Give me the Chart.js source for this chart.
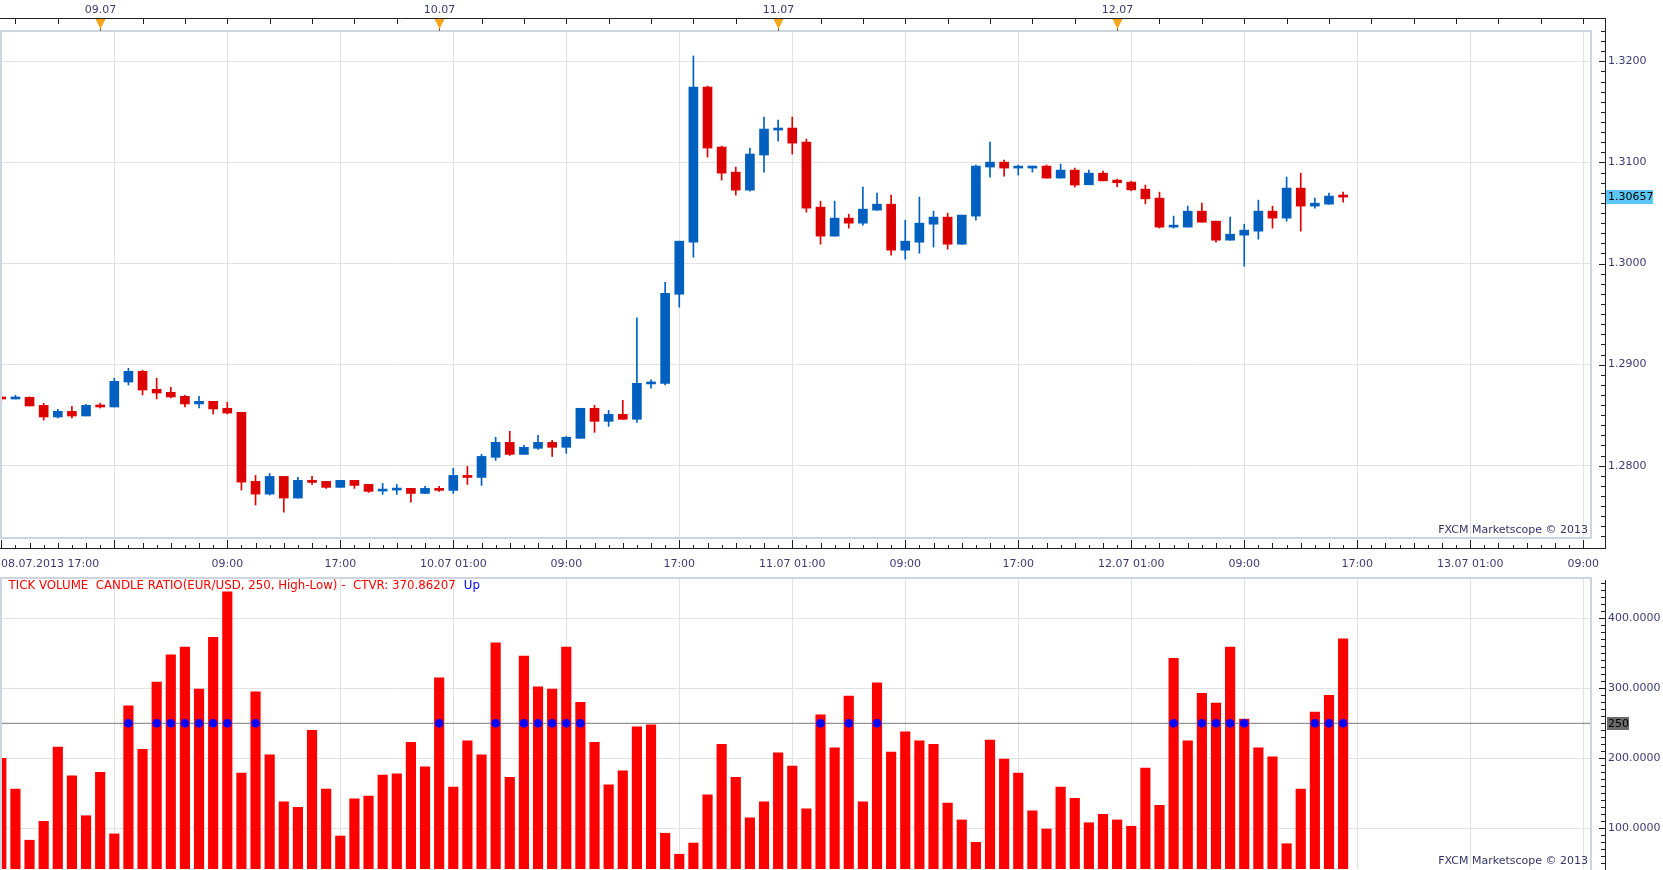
<!DOCTYPE html>
<html>
<head>
<meta charset="utf-8">
<title>EUR/USD H1 - Tick Volume Candle Ratio</title>
<script src="https://cdn.jsdelivr.net/npm/chart.js@4.4.0/dist/chart.umd.min.js"></script>
<style>
  html, body { margin: 0; padding: 0; background: #fff; overflow: hidden; }
  #wrap { position: relative; width: 1663px; height: 870px; }
  canvas { position: absolute; left: 0; }
  #priceChart { top: 0; }
  #volChart { top: 575px; }
</style>
</head>
<body>
<div id="wrap">
  <canvas id="priceChart" width="1663" height="575"></canvas>
  <canvas id="volChart" width="1663" height="295"></canvas>
</div>
<script>
// hour index, 0 = 08.07.2013 17:00 (one candle per hour)
const hourIdx = [
  0, 1, 2, 3, 4, 5, 6, 7, 8, 9, 10, 11, 12, 13, 14, 15, 16, 17, 18, 19,
  20, 21, 22, 23, 24, 25, 26, 27, 28, 29, 30, 31, 32, 33, 34, 35, 36, 37, 38, 39,
  40, 41, 42, 43, 44, 45, 46, 47, 48, 49, 50, 51, 52, 53, 54, 55, 56, 57, 58, 59,
  60, 61, 62, 63, 64, 65, 66, 67, 68, 69, 70, 71, 72, 73, 74, 75, 76, 77, 78, 79,
  80, 81, 82, 83, 84, 85, 86, 87, 88, 89, 90, 91, 92, 93, 94, 95
];

const openV = [
  1.28677, 1.28660, 1.28677, 1.28597, 1.28482, 1.28538, 1.28492, 1.28597, 1.28581, 1.28828,
  1.28934, 1.28756, 1.28726, 1.28686, 1.28611, 1.28637, 1.28568, 1.28528, 1.27845, 1.27719,
  1.27894, 1.27680, 1.27855, 1.27845, 1.27786, 1.27855, 1.27815, 1.27749, 1.27759, 1.27776,
  1.27726, 1.27776, 1.27756, 1.27904, 1.27884, 1.28083, 1.28231, 1.28112, 1.28172, 1.28231,
  1.28182, 1.28271, 1.28568, 1.28439, 1.28508, 1.28459, 1.28809, 1.28815, 1.29696, 1.30211,
  1.31746, 1.31152, 1.30904, 1.30726, 1.31073, 1.31320, 1.31340, 1.31201, 1.30558, 1.30271,
  1.30449, 1.30399, 1.30528, 1.30587, 1.30132, 1.30211, 1.30389, 1.30459, 1.30191, 1.30469,
  1.30954, 1.31003, 1.30944, 1.30944, 1.30964, 1.30845, 1.30924, 1.30779, 1.30894, 1.30825,
  1.30805, 1.30736, 1.30647, 1.30360, 1.30360, 1.30518, 1.30419, 1.30231, 1.30281, 1.30320,
  1.30518, 1.30449, 1.30746, 1.30568, 1.30587, 1.30667
];
const highV = [
  1.28696, 1.28696, 1.28680, 1.28617, 1.28558, 1.28587, 1.28607, 1.28617, 1.28865, 1.28964,
  1.28944, 1.28865, 1.28776, 1.28696, 1.28686, 1.28637, 1.28627, 1.28528, 1.27904, 1.27924,
  1.27894, 1.27884, 1.27894, 1.27845, 1.27855, 1.27855, 1.27815, 1.27825, 1.27815, 1.27776,
  1.27795, 1.27795, 1.27974, 1.27993, 1.28112, 1.28281, 1.28340, 1.28201, 1.28300, 1.28251,
  1.28290, 1.28568, 1.28597, 1.28548, 1.28647, 1.29462, 1.28850, 1.29815, 1.30221, 1.32053,
  1.31756, 1.31162, 1.30954, 1.31142, 1.31449, 1.31419, 1.31449, 1.31231, 1.30617, 1.30617,
  1.30488, 1.30756, 1.30696, 1.30677, 1.30429, 1.30657, 1.30518, 1.30498, 1.30479, 1.30974,
  1.31201, 1.31023, 1.30974, 1.30964, 1.30974, 1.30983, 1.30944, 1.30924, 1.30914, 1.30835,
  1.30815, 1.30776, 1.30706, 1.30469, 1.30568, 1.30597, 1.30419, 1.30459, 1.30389, 1.30627,
  1.30568, 1.30855, 1.30894, 1.30647, 1.30696, 1.30706
];
const lowV = [
  1.28630, 1.28660, 1.28591, 1.28452, 1.28472, 1.28472, 1.28492, 1.28571, 1.28581, 1.28799,
  1.28700, 1.28660, 1.28670, 1.28581, 1.28571, 1.28512, 1.28512, 1.27759, 1.27611, 1.27710,
  1.27541, 1.27680, 1.27815, 1.27776, 1.27786, 1.27776, 1.27736, 1.27716, 1.27716, 1.27640,
  1.27726, 1.27746, 1.27726, 1.27815, 1.27805, 1.28053, 1.28102, 1.28112, 1.28162, 1.28092,
  1.28122, 1.28271, 1.28330, 1.28389, 1.28459, 1.28429, 1.28766, 1.28800, 1.29568, 1.30063,
  1.31053, 1.30825, 1.30677, 1.30716, 1.30904, 1.31211, 1.31083, 1.30508, 1.30191, 1.30271,
  1.30350, 1.30380, 1.30528, 1.30083, 1.30043, 1.30102, 1.30162, 1.30142, 1.30191, 1.30429,
  1.30855, 1.30865, 1.30875, 1.30904, 1.30845, 1.30845, 1.30756, 1.30779, 1.30818, 1.30759,
  1.30719, 1.30591, 1.30350, 1.30350, 1.30360, 1.30409, 1.30211, 1.30231, 1.29974, 1.30241,
  1.30350, 1.30419, 1.30320, 1.30548, 1.30587, 1.30607
];
const closeV = [
  1.28660, 1.28677, 1.28591, 1.28482, 1.28538, 1.28492, 1.28597, 1.28581, 1.28835, 1.28934,
  1.28749, 1.28719, 1.28680, 1.28611, 1.28637, 1.28561, 1.28521, 1.27838, 1.27719, 1.27894,
  1.27680, 1.27855, 1.27835, 1.27786, 1.27855, 1.27805, 1.27746, 1.27766, 1.27776, 1.27726,
  1.27776, 1.27756, 1.27904, 1.27884, 1.28092, 1.28231, 1.28112, 1.28182, 1.28231, 1.28182,
  1.28281, 1.28568, 1.28439, 1.28508, 1.28459, 1.28815, 1.28828, 1.29706, 1.30221, 1.31746,
  1.31142, 1.30894, 1.30726, 1.31083, 1.31330, 1.31340, 1.31191, 1.30548, 1.30271, 1.30449,
  1.30399, 1.30538, 1.30587, 1.30132, 1.30221, 1.30399, 1.30459, 1.30191, 1.30479, 1.30964,
  1.31003, 1.30944, 1.30954, 1.30964, 1.30845, 1.30924, 1.30776, 1.30894, 1.30818, 1.30799,
  1.30729, 1.30640, 1.30360, 1.30370, 1.30518, 1.30409, 1.30231, 1.30290, 1.30330, 1.30518,
  1.30449, 1.30746, 1.30568, 1.30597, 1.30667, 1.30657
];

const tickVolume = [
  200, 156, 83, 110, 216, 175, 118, 180, 92, 275,
  213, 309, 348, 359, 299, 373, 438, 179, 295, 205,
  138, 130, 240, 156, 89, 142, 146, 176, 178, 223,
  188, 315, 159, 225, 205, 365, 173, 346, 302, 299,
  359, 280, 223, 162, 182, 245, 248, 93, 63, 79,
  148, 220, 173, 115, 138, 208, 189, 128, 262, 215,
  289, 138, 308, 209, 238, 225, 220, 136, 112, 80,
  226, 199, 179, 125, 99, 159, 143, 108, 120, 112,
  103, 186, 133, 343, 225, 293, 279, 359, 256, 215,
  202, 78, 156, 266, 290, 370.86207
];

// axis labels
const timeTickLabels = ['08.07.2013 17:00', '', '09:00', '17:00', '10.07 01:00', '09:00', '17:00',
  '11.07 01:00', '09:00', '17:00', '12.07 01:00', '09:00', '17:00', '13.07 01:00', '09:00'];
const dayHours = [7, 31, 55, 79];
const dayLabels = ['09.07', '10.07', '11.07', '12.07'];

const THRESH = 250;
const LAST_PRICE = 1.30657;

// view window
const X_MIN = -0.092, X_MAX = 112.55;
const P_MIN = 1.27285, P_MAX = 1.32300;
const V_MIN = 41.9, V_MAX = 457.6;

const BLUE = '#0060c0', RED = '#dd0000';
const GRID = '#e2e2e2', FRAME = '#cdd5df', AXIS = '#202020';
const TXT = '#3b3b73';
const FONT = '"DejaVu Sans", Verdana, sans-serif';
const FS = 11;

const candleColor = ctx => closeV[ctx.dataIndex] >= openV[ctx.dataIndex] ? BLUE : RED;

function line(ctx, x1, y1, x2, y2) {
  ctx.beginPath();
  ctx.moveTo(x1, y1);
  ctx.lineTo(x2, y2);
  ctx.stroke();
}

const priceDecor = {
  id: 'priceDecor',
  afterDraw(chart) {
    const ctx = chart.ctx, a = chart.chartArea;
    const xs = chart.scales.x, ys = chart.scales.y;
    ctx.save();
    // inner frame
    ctx.strokeStyle = FRAME;
    ctx.lineWidth = 2;
    ctx.strokeRect(a.left + 1, a.top, a.right - a.left - 1, a.bottom - a.top);

    // outer axes
    ctx.strokeStyle = AXIS;
    ctx.lineWidth = 1;
    line(ctx, 0, 18.5, 1606, 18.5);
    line(ctx, 0, 548.5, 1606, 548.5);
    line(ctx, 1605.5, 18, 1605.5, 549);

    // top ticks every 3h
    for (let h = 1; h <= X_MAX; h += 3) {
      const x = Math.round(xs.getPixelForValue(h)) + 0.5;
      line(ctx, x, 18, x, 24);
    }
    // bottom ticks every hour
    for (let h = 0; h <= X_MAX; h++) {
      const x = Math.round(xs.getPixelForValue(h)) + 0.5;
      const len = h % 8 === 0 ? 8 : (h % 2 === 0 ? 5 : 3);
      line(ctx, x, 548, x, 548 - len);
    }
    // right ticks every 0.001
    for (let m = 1273; m <= 1323; m++) {
      const y = Math.round(ys.getPixelForValue(m / 1000)) + 0.5;
      if (y < 18 || y > 549) continue;
      const len = m % 10 === 0 ? 6 : 4;
      line(ctx, 1605, y, 1605 - len, y);
    }

    ctx.font = FS + 'px ' + FONT;
    ctx.fillStyle = TXT;
    ctx.textBaseline = 'middle';

    // day markers
    dayHours.forEach((h, i) => {
      const x = Math.round(xs.getPixelForValue(h)) + 0.5;
      ctx.strokeStyle = '#7a5a2a';
      line(ctx, x, 18, x, 31);
      ctx.fillStyle = '#f8a51c';
      ctx.beginPath();
      ctx.moveTo(x - 5, 19);
      ctx.lineTo(x + 5, 19);
      ctx.lineTo(x, 29);
      ctx.closePath();
      ctx.fill();
      ctx.fillStyle = TXT;
      ctx.textAlign = 'center';
      ctx.fillText(dayLabels[i], x, 10.5);
    });

    // time labels
    timeTickLabels.forEach((lbl, i) => {
      if (!lbl) return;
      const x = xs.getPixelForValue(i * 8);
      ctx.textAlign = i === 0 ? 'left' : 'center';
      ctx.fillText(lbl, i === 0 ? 1 : x, 564.5);
    });

    // last price tag
    const yp = ys.getPixelForValue(LAST_PRICE);
    ctx.fillStyle = '#5cc6f6';
    ctx.fillRect(1606, Math.round(yp) - 7, 47, 14);
    ctx.fillStyle = '#000';
    ctx.textAlign = 'left';
    ctx.fillText(LAST_PRICE.toFixed(5), 1608, yp);

    // watermark
    ctx.fillStyle = '#333366';
    ctx.textAlign = 'right';
    ctx.fillText('FXCM Marketscope \u00a9 2013', 1588, 530);
    ctx.restore();
  }
};

const volDecor = {
  id: 'volDecor',
  afterDraw(chart) {
    const ctx = chart.ctx, a = chart.chartArea;
    const ys = chart.scales.y;
    ctx.save();
    ctx.strokeStyle = FRAME;
    ctx.lineWidth = 2;
    ctx.strokeRect(a.left + 1, a.top, a.right - a.left - 1, a.bottom - a.top + 2);

    ctx.strokeStyle = AXIS;
    ctx.lineWidth = 1;
    line(ctx, 1605.5, 5, 1605.5, 295);
    for (let v = 50; v <= 450; v += 10) {
      const y = Math.round(ys.getPixelForValue(v)) + 0.5;
      if (y < 5 || y > 295) continue;
      line(ctx, 1605, y, 1605 - (v % 100 === 0 ? 6 : 4), y);
    }

    ctx.textBaseline = 'middle';
    ctx.textAlign = 'left';
    ctx.font = '11.8px ' + FONT;
    const legend = 'TICK VOLUME  CANDLE RATIO(EUR/USD, ' + THRESH + ', High-Low) -  CTVR: ' +
      tickVolume[tickVolume.length - 1].toFixed(5);
    ctx.fillStyle = '#ff0000';
    ctx.fillText(legend, 8.5, 11);
    ctx.fillStyle = '#0000ff';
    ctx.fillText('Up', 8.5 + ctx.measureText(legend).width + 8, 11);

    ctx.font = FS + 'px ' + FONT;
    // threshold tag
    const yt = ys.getPixelForValue(THRESH);
    ctx.fillStyle = '#6b6b6b';
    ctx.fillRect(1607, Math.round(yt) - 6, 22, 13);
    ctx.fillStyle = '#000';
    ctx.fillText(String(THRESH), 1608, yt + 0.5);

    ctx.fillStyle = '#333366';
    ctx.textAlign = 'right';
    ctx.fillText('FXCM Marketscope \u00a9 2013', 1588, 286);
    ctx.restore();
  }
};

const xScale = (h) => ({
  type: 'linear',
  min: X_MIN,
  max: X_MAX,
  offset: false,
  grid: { offset: false, color: GRID, drawTicks: false },
  border: { display: false },
  ticks: { display: false, stepSize: 8, includeBounds: false },
  afterFit: s => { s.height = h; }
});

const yScale = (min, max, step, digits) => ({
  position: 'right',
  min: min,
  max: max,
  grid: { color: GRID, drawTicks: false },
  border: { display: false },
  ticks: {
    stepSize: step,
    includeBounds: false,
    padding: 17,
    color: TXT,
    font: { family: FONT, size: FS },
    callback: v => v.toFixed(digits)
  },
  afterFit: s => {
    s.width = 72;
    // keep the label padding from shrinking the plot vertically
    s.paddingTop = 0;
    s.paddingBottom = 0;
  }
});

new Chart(document.getElementById('priceChart'), {
  type: 'bar',
  data: {
    datasets: [{
      label: 'body',
      data: hourIdx.map((h, i) => ({ x: h, y: [openV[i], closeV[i]] })),
      backgroundColor: candleColor,
      barThickness: 9,
      minBarLength: 2,
      grouped: false,
      order: 0
    }, {
      label: 'wick',
      data: hourIdx.map((h, i) => ({ x: h, y: [lowV[i], highV[i]] })),
      backgroundColor: candleColor,
      barThickness: 1,
      grouped: false,
      order: 1
    }]
  },
  options: {
    responsive: false,
    devicePixelRatio: 1,
    animation: false,
    layout: { autoPadding: false, padding: { top: 31, left: 0, right: 0, bottom: 0 } },
    plugins: { legend: { display: false }, tooltip: { enabled: false } },
    scales: {
      x: xScale(37),
      y: yScale(P_MIN, P_MAX, 0.01, 4)
    }
  },
  plugins: [priceDecor]
});

const dots = hourIdx.filter((h, i) => tickVolume[i] > THRESH).map(h => ({ x: h, y: THRESH }));

new Chart(document.getElementById('volChart'), {
  type: 'bar',
  data: {
    datasets: [{
      type: 'scatter',
      data: dots,
      pointRadius: 4,
      backgroundColor: '#0000ff',
      borderColor: '#2a00e0',
      borderWidth: 1,
      order: 0
    }, {
      type: 'line',
      data: [{ x: X_MIN, y: THRESH }, { x: X_MAX, y: THRESH }],
      borderColor: '#7a7a7a',
      borderWidth: 1,
      pointRadius: 0,
      order: 1
    }, {
      type: 'bar',
      data: hourIdx.map((h, i) => ({ x: h, y: tickVolume[i] })),
      backgroundColor: '#ff0000',
      barThickness: 9.5,
      grouped: false,
      order: 2
    }]
  },
  options: {
    responsive: false,
    devicePixelRatio: 1,
    animation: false,
    layout: { autoPadding: false, padding: { top: 3, left: 0, right: 0, bottom: 0 } },
    plugins: { legend: { display: false }, tooltip: { enabled: false } },
    scales: {
      x: xScale(1),
      y: yScale(V_MIN, V_MAX, 100, 4)
    }
  },
  plugins: [volDecor]
});
</script>
</body>
</html>
